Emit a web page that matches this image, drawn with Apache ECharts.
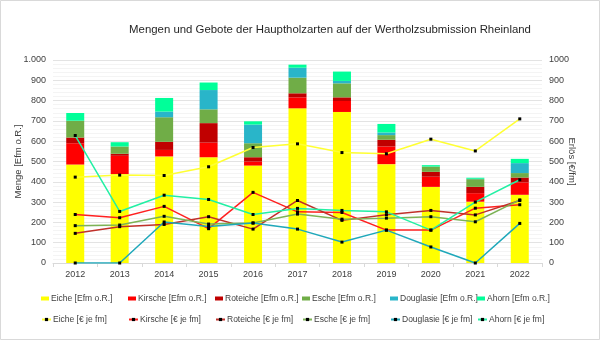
<!DOCTYPE html>
<html><head><meta charset="utf-8">
<script src="https://cdn.jsdelivr.net/npm/echarts@6/dist/echarts.min.js"></script>
<style>html,body{margin:0;padding:0;background:#fff}#c{width:600px;height:340px}</style>
</head><body><div id="c"></div>
<script>
const years = ['2012','2013','2014','2015','2016','2017','2018','2019','2020','2021','2022'];
// Mengen [Efm o.R.]
const eicheM    = [485, 438, 525, 521, 480, 762, 744, 487, 375, 302, 336];
const kirscheM  = [105,  90,  32,  72,  20,  54,  54,  87,  50,  42,  61];
const roteicheM = [ 28,  10,  40,  96,  21,  20,  18,  33,  24,  31,  24];
const escheM    = [ 83,  36, 121,  68,  69,  77,  69,  23,  26,  38,  22];
const douglM    = [  0,   0,  28,  95,  92,  49,  12,  13,   0,   2,  49];
const ahornM    = [ 38,  21,  67,  37,  16,  15,  46,  42,   7,   5,  21];
// Erlöse [€ je fm]
const eicheP    = [423, 433, 431, 474, 569, 587, 544, 538, 610, 552, 710];
const kirscheP  = [239, 223, 279, 169, 348, 252, 249, 162, 162, 270, 287];
const roteicheP = [146, 179, 190, 228, 167, 308, 210, 238, 259, 237, 308];
const escheP    = [184, 187, 230, 192, 197, 241, 216, 221, 228, 203, 311];
const douglP    = [  0,   0, 202, 180, 197, 167, 103, 162,  79,   0, 195];
const ahornP    = [628, 254, 334, 313, 239, 269, 259, 252, 162, 300, 410];
const yTicksLeft  = ['0','100','200','300','400','500','600','700','800','900','1.000'];
const yTicksRight = ['0','100','200','300','400','500','600','700','800','900','1000'];

const FONT = '"Liberation Sans", Arial, sans-serif';
const TXT = '#404040';

const barDefs = [
  ['Eiche [Efm o.R.]', eicheM, '#FFFF00'],
  ['Kirsche [Efm o.R.]', kirscheM, '#FF0000'],
  ['Roteiche [Efm o.R.]', roteicheM, '#C00000'],
  ['Esche [Efm o.R.]', escheM, '#70AD47'],
  ['Douglasie [Efm o.R.]', douglM, '#29B5C9'],
  ['Ahorn [Efm o.R.]', ahornM, '#00FF99']
];
const lineDefs = [
  ['Eiche [€ je fm]', eicheP, '#FFFF33'],
  ['Kirsche [€ je fm]', kirscheP, '#FF2020'],
  ['Roteiche [€ je fm]', roteicheP, '#C0302A'],
  ['Esche [€ je fm]', escheP, '#7DB356'],
  ['Douglasie [€ je fm]', douglP, '#1FA8BA'],
  ['Ahorn [€ je fm]', ahornP, '#22F0A4']
];

const series = [];
barDefs.forEach(d => series.push({
  name: d[0], type: 'bar', stack: 'm', data: d[1], barWidth: 18,
  itemStyle: {color: d[2]}, yAxisIndex: 0
}));
lineDefs.forEach(d => series.push({
  name: d[0], type: 'line', data: d[1], yAxisIndex: 1,
  lineStyle: {color: d[2], width: 1.5}, itemStyle: {color: '#000', borderWidth: 0},
  symbol: 'rect', symbolSize: 3, showSymbol: true, z: 5
}));

const legendX = [36, 123, 210, 297, 385, 472];
const legends = [];
barDefs.forEach((d, i) => legends.push({
  left: legendX[i], top: 289, itemWidth: 8, itemHeight: 4, icon: 'rect',
  textStyle: {fontFamily: FONT, fontSize: 8.5, color: TXT, padding: [0,0,0,-3]},
  data: [d[0]]
}));
lineDefs.forEach((d, i) => legends.push({
  left: legendX[i], top: 310, itemWidth: 9, itemHeight: 4,
  textStyle: {fontFamily: FONT, fontSize: 8.5, color: TXT, padding: [0,0,0,-3]},
  data: [d[0]]
}));

const chart = echarts.init(document.getElementById('c'), null, {renderer: 'canvas'});
chart.setOption({
  animation: false,
  backgroundColor: '#fff',
  title: {
    text: 'Mengen und Gebote der Hauptholzarten auf der Wertholzsubmission Rheinland',
    left: 325, top: 19, textAlign: 'center',
    textStyle: {fontFamily: FONT, fontSize: 11.4, fontWeight: 'normal', color: '#262626'}
  },
  graphic: [{type: 'rect', shape: {x: 0.5, y: 0.5, width: 599, height: 339},
    style: {fill: 'none', stroke: '#d9d9d9', lineWidth: 1}, silent: true}],
  grid: {left: 53, right: 58, top: 60, bottom: 77, outerBoundsMode: 'none', containLabel: false},
  legend: legends,
  xAxis: {
    type: 'category', data: years, boundaryGap: true,
    axisLine: {lineStyle: {color: '#d9d9d9'}},
    axisTick: {show: true, length: 4, lineStyle: {color: '#d9d9d9'}},
    axisLabel: {fontFamily: FONT, fontSize: 9, color: TXT, margin: 7}
  },
  yAxis: [{
    type: 'value', min: 0, max: 1000, interval: 100, position: 'left',
    name: 'Menge [Efm o.R.]', nameLocation: 'middle', nameGap: 30, nameRotate: 90,
    nameMoveOverlap: false,
    nameTextStyle: {fontFamily: FONT, fontSize: 9.5, color: TXT},
    axisLine: {show: false}, axisTick: {show: false},
    axisLabel: {fontFamily: FONT, fontSize: 9, color: TXT, margin: 7,
      formatter: (v) => yTicksLeft[Math.round(v / 100)]},
    splitLine: {lineStyle: {color: '#e3e3e3', width: 1}},
    minorTick: {show: false, splitNumber: 5},
    minorSplitLine: {show: true, lineStyle: {color: '#f4f4f4', width: 1}}
  }, {
    type: 'value', min: 0, max: 1000, interval: 100, position: 'right',
    name: 'Erlös [€/fm]', nameLocation: 'middle', nameGap: 25, nameRotate: -90,
    nameMoveOverlap: false,
    nameTextStyle: {fontFamily: FONT, fontSize: 9.5, color: TXT},
    axisLine: {show: false}, axisTick: {show: false},
    axisLabel: {fontFamily: FONT, fontSize: 9, color: TXT, margin: 7,
      formatter: (v) => yTicksRight[Math.round(v / 100)]},
    splitLine: {show: false}
  }],
  series: series
});
</script></body></html>
